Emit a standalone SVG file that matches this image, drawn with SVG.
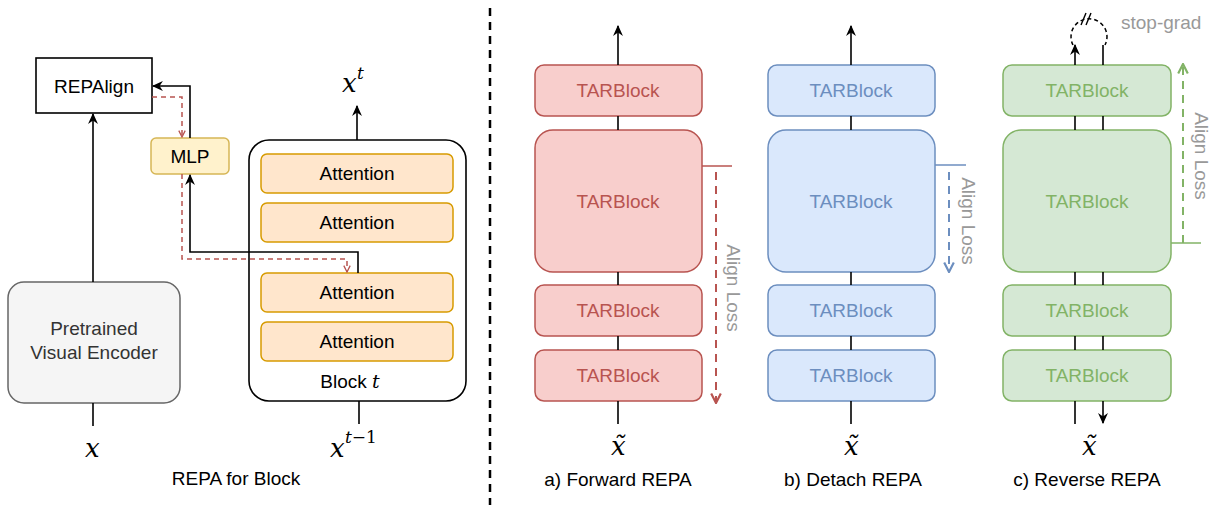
<svg xmlns="http://www.w3.org/2000/svg" width="1216" height="508" viewBox="0 0 1216 508">
<style>
  .lbl { font-family: "Liberation Sans", Arial, sans-serif; font-size: 19px; text-anchor: middle; fill: #000; }
  .math { font-family: "DejaVu Serif", "Liberation Serif", serif; font-style: italic; fill: #000; }
  .gray { font-family: "Liberation Sans", Arial, sans-serif; font-size: 19px; fill: #999999; }
  .ln { stroke: #000; stroke-width: 1.6; fill: none; }
  .att { fill: #ffe6cc; stroke: #d79b00; stroke-width: 1.5; }
  .red { fill: #f8cecc; stroke: #b85450; stroke-width: 1.5; }
  .blue { fill: #dae8fc; stroke: #6c8ebf; stroke-width: 1.5; }
  .green { fill: #d5e8d4; stroke: #82b366; stroke-width: 1.5; }
  .tr { fill: #b85450; } .tb { fill: #6c8ebf; } .tg { fill: #82b366; }
</style>
<defs>
  <marker id="blk" viewBox="0 0 10 10" refX="9" refY="5" markerWidth="11" markerHeight="11" markerUnits="userSpaceOnUse" orient="auto">
    <path d="M0,0.5 L10,5 L0,9.5 L3,5 Z" fill="#000"/>
  </marker>
  <marker id="ored" viewBox="0 0 10 10" refX="9" refY="5" markerWidth="8" markerHeight="8" markerUnits="userSpaceOnUse" orient="auto">
    <path d="M1,1 L9,5 L1,9" fill="none" stroke="#b85450" stroke-width="1.6"/>
  </marker>
  <marker id="ored2" viewBox="0 0 10 10" refX="9" refY="5" markerWidth="12" markerHeight="12" markerUnits="userSpaceOnUse" orient="auto">
    <path d="M1,1 L9,5 L1,9" fill="none" stroke="#b85450" stroke-width="1.8"/>
  </marker>
  <marker id="oblue" viewBox="0 0 10 10" refX="9" refY="5" markerWidth="12" markerHeight="12" markerUnits="userSpaceOnUse" orient="auto">
    <path d="M1,1 L9,5 L1,9" fill="none" stroke="#6c8ebf" stroke-width="1.8"/>
  </marker>
  <marker id="ogreen" viewBox="0 0 10 10" refX="9" refY="5" markerWidth="12" markerHeight="12" markerUnits="userSpaceOnUse" orient="auto">
    <path d="M1,1 L9,5 L1,9" fill="none" stroke="#82b366" stroke-width="1.8"/>
  </marker>
</defs>
<rect width="1216" height="508" fill="#fff"/>

<!-- Left panel nodes -->
<g id="repalign">
  <rect x="36" y="58" width="116" height="55" fill="#fff" stroke="#000" stroke-width="1.6"/>
  <text class="lbl" x="94" y="93">REPAlign</text>
</g>
<g id="mlp">
  <rect x="151" y="138" width="78" height="36" rx="5" fill="#fff2cc" stroke="#d6b656" stroke-width="1.5"/>
  <text class="lbl" x="190" y="163">MLP</text>
</g>
<g id="encoder">
  <rect x="8" y="282" width="172" height="121" rx="16" fill="#f5f5f5" stroke="#666666" stroke-width="1.5"/>
  <text class="lbl" x="94" y="335" style="fill:#333">Pretrained</text>
  <text class="lbl" x="94" y="359" style="fill:#333">Visual Encoder</text>
</g>
<g id="block-t">
  <rect x="249" y="140" width="217" height="261" rx="20" fill="#fff" stroke="#000" stroke-width="1.6"/>
  <text class="lbl" x="350" y="388">Block <tspan class="math" font-size="19">t</tspan></text>
</g>
<g id="att1"><rect class="att" x="261" y="154" width="192" height="39" rx="6"/><text class="lbl" x="357" y="180">Attention</text></g>
<g id="att2"><rect class="att" x="261" y="203" width="192" height="39" rx="6"/><text class="lbl" x="357" y="229">Attention</text></g>
<g id="att3"><rect class="att" x="261" y="273" width="192" height="39" rx="6"/><text class="lbl" x="357" y="299">Attention</text></g>
<g id="att4"><rect class="att" x="261" y="322" width="192" height="39" rx="6"/><text class="lbl" x="357" y="348">Attention</text></g>

<g id="left-labels">
  <text class="math" x="85" y="457" font-size="26">x</text>
  <text class="math" x="342" y="92" font-size="26">x</text>
  <text class="math" x="357" y="79" font-size="17">t</text>
  <text class="math" x="330" y="457" font-size="26">x</text>
  <text class="math" x="345" y="443" font-size="17">t<tspan font-style="normal">−1</tspan></text>
  <text class="lbl" x="236" y="485">REPA for Block</text>
</g>

<!-- Divider -->
<line x1="490" y1="8" x2="490" y2="505" stroke="#000" stroke-width="2.5" stroke-dasharray="8 6"/>

<!-- Panel a -->
<g id="a-b1"><rect class="red" x="535" y="65" width="167" height="51" rx="9"/><text class="lbl tr" x="618" y="97">TARBlock</text></g>
<g id="a-b2"><rect class="red" x="535" y="130" width="167" height="142" rx="18"/><text class="lbl tr" x="618" y="208">TARBlock</text></g>
<g id="a-b3"><rect class="red" x="535" y="285" width="167" height="51" rx="9"/><text class="lbl tr" x="618" y="317">TARBlock</text></g>
<g id="a-b4"><rect class="red" x="535" y="350" width="167" height="51" rx="9"/><text class="lbl tr" x="618" y="382">TARBlock</text></g>
<g id="a-labels">
  <text class="math" x="611" y="455" font-size="26">x̃</text>
  <text class="lbl" x="618" y="486">a) Forward REPA</text>
  <text class="gray" transform="translate(727,288) rotate(90)" text-anchor="middle">Align Loss</text>
</g>

<!-- Panel b -->
<g id="b-b1"><rect class="blue" x="768" y="65" width="167" height="51" rx="9"/><text class="lbl tb" x="851" y="97">TARBlock</text></g>
<g id="b-b2"><rect class="blue" x="768" y="130" width="167" height="142" rx="18"/><text class="lbl tb" x="851" y="208">TARBlock</text></g>
<g id="b-b3"><rect class="blue" x="768" y="285" width="167" height="51" rx="9"/><text class="lbl tb" x="851" y="317">TARBlock</text></g>
<g id="b-b4"><rect class="blue" x="768" y="350" width="167" height="51" rx="9"/><text class="lbl tb" x="851" y="382">TARBlock</text></g>
<g id="b-labels">
  <text class="math" x="844" y="455" font-size="26">x̃</text>
  <text class="lbl" x="853" y="486">b) Detach REPA</text>
  <text class="gray" transform="translate(962,221) rotate(90)" text-anchor="middle">Align Loss</text>
</g>

<!-- Panel c -->
<g id="c-b1"><rect class="green" x="1003" y="65" width="168" height="51" rx="9"/><text class="lbl tg" x="1087" y="97">TARBlock</text></g>
<g id="c-b2"><rect class="green" x="1003" y="130" width="168" height="142" rx="18"/><text class="lbl tg" x="1087" y="208">TARBlock</text></g>
<g id="c-b3"><rect class="green" x="1003" y="285" width="168" height="51" rx="9"/><text class="lbl tg" x="1087" y="317">TARBlock</text></g>
<g id="c-b4"><rect class="green" x="1003" y="350" width="168" height="51" rx="9"/><text class="lbl tg" x="1087" y="382">TARBlock</text></g>
<g id="c-labels">
  <text class="math" x="1082" y="455" font-size="26">x̃</text>
  <text class="lbl" x="1087" y="486">c) Reverse REPA</text>
  <text class="gray" x="1121" y="29">stop-grad</text>
  <text class="gray" transform="translate(1195,156) rotate(90)" text-anchor="middle">Align Loss</text>
</g>

<!-- Connectors -->
<g id="connectors">
  <!-- left panel -->
  <line class="ln" x1="93" y1="282" x2="93" y2="114" marker-end="url(#blk)"/>
  <line class="ln" x1="93" y1="403" x2="93" y2="426"/>
  <polyline class="ln" points="190,138 190,86 153,86" marker-end="url(#blk)"/>
  <polyline class="ln" points="358,273 358,252 190,252 190,175" marker-end="url(#blk)"/>
  <polyline points="152,97 182,97 182,137" fill="none" stroke="#b85450" stroke-width="1.5" stroke-dasharray="5 4" marker-end="url(#ored)"/>
  <polyline points="182,174 182,259 347,259 347,272" fill="none" stroke="#b85450" stroke-width="1.5" stroke-dasharray="5 4" marker-end="url(#ored)"/>
  <line class="ln" x1="357" y1="140" x2="357" y2="106" marker-end="url(#blk)"/>
  <line class="ln" x1="359" y1="401" x2="359" y2="424"/>

  <!-- panel a -->
  <line class="ln" x1="618" y1="65" x2="618" y2="26" marker-end="url(#blk)"/>
  <line class="ln" x1="618" y1="116" x2="618" y2="130"/>
  <line class="ln" x1="618" y1="272" x2="618" y2="285"/>
  <line class="ln" x1="618" y1="336" x2="618" y2="350"/>
  <line class="ln" x1="618" y1="401" x2="618" y2="424"/>
  <line x1="702" y1="166" x2="732" y2="166" stroke="#b85450" stroke-width="1.5"/>
  <line x1="716" y1="172" x2="716" y2="403" stroke="#b85450" stroke-width="2" stroke-dasharray="8 6" marker-end="url(#ored2)"/>

  <!-- panel b -->
  <line class="ln" x1="851" y1="65" x2="851" y2="26" marker-end="url(#blk)"/>
  <line class="ln" x1="851" y1="116" x2="851" y2="130"/>
  <line class="ln" x1="851" y1="272" x2="851" y2="285"/>
  <line class="ln" x1="851" y1="336" x2="851" y2="350"/>
  <line class="ln" x1="851" y1="401" x2="851" y2="424"/>
  <line x1="935" y1="165" x2="966" y2="165" stroke="#6c8ebf" stroke-width="1.5"/>
  <line x1="949" y1="172" x2="949" y2="272" stroke="#6c8ebf" stroke-width="2" stroke-dasharray="8 6" marker-end="url(#oblue)"/>

  <!-- panel c -->
  <line class="ln" x1="1075" y1="65" x2="1075" y2="45" marker-end="url(#blk)"/>
  <line class="ln" x1="1103" y1="65" x2="1103" y2="45"/>
  <path d="M1073,45 A18,18 0 1 1 1105,45" fill="none" stroke="#000" stroke-width="1.5" stroke-dasharray="4 3"/>
  <line x1="1081" y1="25" x2="1086" y2="13" stroke="#000" stroke-width="1.4"/>
  <line x1="1086" y1="25" x2="1091" y2="13" stroke="#000" stroke-width="1.4"/>
  <line class="ln" x1="1075" y1="116" x2="1075" y2="130"/>
  <line class="ln" x1="1103" y1="116" x2="1103" y2="130"/>
  <line class="ln" x1="1075" y1="272" x2="1075" y2="285"/>
  <line class="ln" x1="1103" y1="272" x2="1103" y2="285"/>
  <line class="ln" x1="1075" y1="336" x2="1075" y2="350"/>
  <line class="ln" x1="1103" y1="336" x2="1103" y2="350"/>
  <line class="ln" x1="1075" y1="401" x2="1075" y2="424"/>
  <line class="ln" x1="1103" y1="401" x2="1103" y2="423" marker-end="url(#blk)"/>
  <line x1="1171" y1="243" x2="1201" y2="243" stroke="#82b366" stroke-width="1.5"/>
  <line x1="1183" y1="243" x2="1183" y2="64" stroke="#82b366" stroke-width="2" stroke-dasharray="8 6" marker-end="url(#ogreen)"/>
</g>
</svg>
